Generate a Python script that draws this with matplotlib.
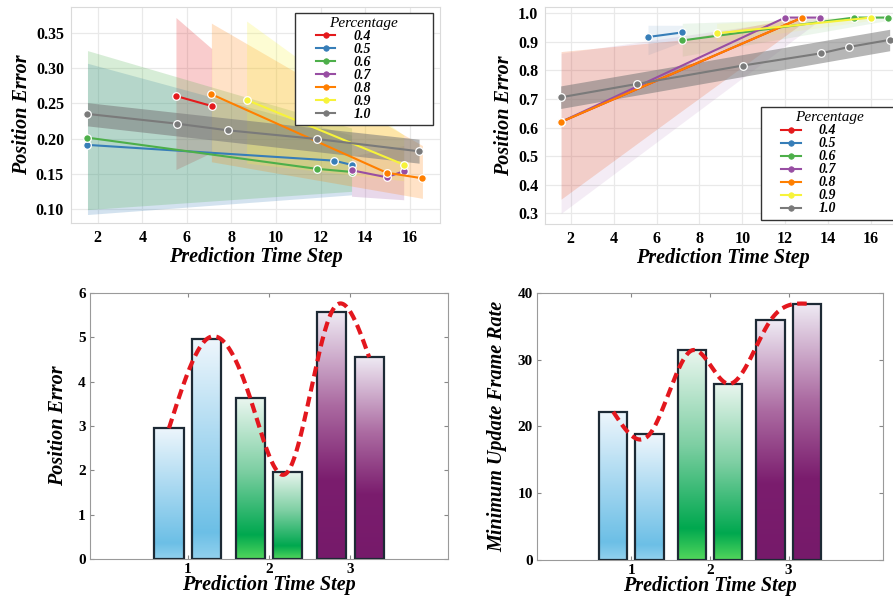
import numpy as np
import matplotlib.pyplot as plt
from matplotlib.colors import LinearSegmentedColormap
from matplotlib.lines import Line2D
from matplotlib.legend_handler import HandlerLine2D

SERIF = 'Liberation Serif'
plt.rcParams['font.family'] = SERIF

# ---- top panels: position error vs prediction time step ----
PERCENTAGES = ['0.4', '0.5', '0.6', '0.7', '0.8', '0.9', '1.0']
COLORS = ['#e41a1c', '#377eb8', '#4daf4a', '#984ea3', '#ff7f00', '#f7f33a', '#7a7a7a']

TL_X = [[5.51, 7.11], [1.54, 12.61, 13.39], [1.54, 11.82, 13.39], [13.39, 14.96, 15.73],
        [7.10, 14.96, 16.57], [8.68, 15.73], [1.54, 5.54, 7.84, 11.82, 16.42]]
TL_Y = [[0.2605, 0.2463], [0.191, 0.1686, 0.1626], [0.2013, 0.157, 0.1526], [0.155, 0.145, 0.1535],
        [0.263, 0.1515, 0.1435], [0.255, 0.163], [0.235, 0.2212, 0.2117, 0.1994, 0.1819]]
TL_BAND_X = [[5.51, 7.11], [1.54, 13.39], [1.54, 13.39], [13.39, 15.73],
             [7.10, 16.57], [8.68, 15.73], [1.54, 16.42]]
TL_BAND_LO = [[0.156, 0.180], [0.092, 0.120], [0.099, 0.125], [0.118, 0.113],
              [0.167, 0.115], [0.165, 0.140], [0.218, 0.165]]
TL_BAND_HI = [[0.372, 0.328], [0.307, 0.205], [0.325, 0.215], [0.175, 0.190],
              [0.364, 0.190], [0.367, 0.205], [0.251, 0.199]]

TR_X = [[1.55, 12.8], [5.6, 7.2], [7.2, 15.2, 16.8], [1.55, 12.0, 13.6],
        [1.55, 12.8], [8.8, 16.0], [1.53, 5.10, 10.01, 13.67, 14.96, 16.87]]
TR_Y = [[0.62, 0.985], [0.917, 0.933], [0.905, 0.985, 0.985], [0.62, 0.985, 0.985],
        [0.62, 0.985], [0.93, 0.985], [0.706, 0.753, 0.817, 0.860, 0.882, 0.907]]
TR_BAND_X = [[1.55, 7.2, 12.8], [5.6, 7.2], [7.2, 16.8], [1.55, 13.6],
             [1.55, 7.2, 12.8], [8.8, 16.0], [1.53, 16.87]]
TR_BAND_LO = [[0.35, 0.66, 0.965], [0.855, 0.90], [0.85, 0.975], [0.30, 0.975],
              [0.35, 0.66, 0.965], [0.90, 0.975], [0.667, 0.869]]
TR_BAND_HI = [[0.866, 0.907, 0.99], [0.958, 0.958], [0.965, 0.99], [0.86, 0.99],
              [0.866, 0.907, 0.99], [0.965, 0.99], [0.746, 0.944]]

# ---- bottom panels: bars per prediction time step ----
STEPS = [1, 2, 3]
BL_FIRST = [2.95, 3.62, 5.57]
BL_SECOND = [4.95, 1.97, 4.55]
BR_FIRST = [22.2, 31.4, 35.9]
BR_SECOND = [18.8, 26.4, 38.4]

LABEL_FONT = dict(fontsize=14.5, fontweight='bold', fontstyle='italic')

fig = plt.figure(figsize=(8.93, 6.02), dpi=100)


def line_panel(rect, xs, ys, bx, blo, bhi, ylim, yticks, yfmt, leg_box, band_alpha):
    ax = fig.add_axes(rect)
    handles = []
    for i, lab in enumerate(PERCENTAGES):
        c = COLORS[i]
        a = 0.55 if lab == '1.0' else band_alpha
        ax.fill_between(bx[i], blo[i], bhi[i], color=c, alpha=a, lw=0, zorder=1)
    for i, lab in enumerate(PERCENTAGES):
        c = COLORS[i]
        ax.plot(xs[i], ys[i], color=c, lw=1.5, marker='o', ms=5.5,
                mec='white', mew=0.9, zorder=3)
        handles.append(Line2D([], [], color=c, lw=1.5, marker='o', ms=4,
                              mec=c, mew=0.5))
    ax.set_xlim(0.8, 17.35)
    ax.set_ylim(*ylim)
    ax.set_xticks(range(2, 17, 2))
    ax.set_yticks(yticks)
    ax.set_yticklabels([yfmt.format(v) for v in yticks])
    ax.grid(True, color='#e9e9e9', lw=0.9)
    ax.set_axisbelow(True)
    for s in ax.spines.values():
        s.set_color('#dadada')
    ax.tick_params(length=0, pad=5, labelsize=11.5)
    for t in ax.get_xticklabels() + ax.get_yticklabels():
        t.set_fontweight('bold')
    ax.set_xlabel('Prediction Time Step', labelpad=1, **LABEL_FONT)
    ax.set_ylabel('Position Error', labelpad=3, **LABEL_FONT)
    leg = ax.legend(handles, PERCENTAGES, title='Percentage', loc='upper left',
                    bbox_to_anchor=leg_box, bbox_transform=fig.transFigure,
                    mode='expand', borderaxespad=0, fancybox=False,
                    framealpha=1, edgecolor='#333333', handlelength=2.6,
                    labelspacing=0.0, borderpad=0.3, handletextpad=1.3,
                    handler_map={Line2D: HandlerLine2D(xpad=1.2)},
                    prop={'family': SERIF, 'style': 'italic', 'weight': 'bold', 'size': 10},
                    title_fontproperties={'family': SERIF, 'style': 'italic', 'size': 11})
    leg.get_frame().set_linewidth(1.0)
    leg.set_zorder(5)
    return ax


line_panel([0.0795, 0.6296, 0.413, 0.3588], TL_X, TL_Y, TL_BAND_X, TL_BAND_LO, TL_BAND_HI,
           (0.080, 0.387), [0.10, 0.15, 0.20, 0.25, 0.30, 0.35], '{:.2f}',
           (0.3303, 0.5, 0.1545, 0.479), 0.22)
line_panel([0.6103, 0.6279, 0.3975, 0.3605], TR_X, TR_Y, TR_BAND_X, TR_BAND_LO, TR_BAND_HI,
           (0.263, 1.022), [0.3, 0.4, 0.5, 0.6, 0.7, 0.8, 0.9, 1.0], '{:.1f}',
           (0.8518, 0.3, 0.1545, 0.5218), 0.10)


def natural_spline(x, y, num=300):
    x = np.asarray(x, float)
    y = np.asarray(y, float)
    n = len(x)
    h = np.diff(x)
    A = np.zeros((n, n))
    r = np.zeros(n)
    A[0, 0] = A[-1, -1] = 1
    for i in range(1, n - 1):
        A[i, i - 1] = h[i - 1]
        A[i, i] = 2 * (h[i - 1] + h[i])
        A[i, i + 1] = h[i]
        r[i] = 6 * ((y[i + 1] - y[i]) / h[i] - (y[i] - y[i - 1]) / h[i - 1])
    m = np.linalg.solve(A, r)
    xs = np.linspace(x[0], x[-1], num)
    k = np.clip(np.searchsorted(x, xs) - 1, 0, n - 2)
    t0 = x[k + 1] - xs
    t1 = xs - x[k]
    hk = h[k]
    ys = (m[k] * t0 ** 3 + m[k + 1] * t1 ** 3) / (6 * hk) \
        + (y[k] / hk - m[k] * hk / 6) * t0 + (y[k + 1] / hk - m[k + 1] * hk / 6) * t1
    return xs, ys


CMAPS = [
    LinearSegmentedColormap.from_list('b', [(0, '#92d1ee'), (0.12, '#6cbfe6'), (0.55, '#aad9f1'), (1, '#eef6fc')]),
    LinearSegmentedColormap.from_list('g', [(0, '#52d65c'), (0.15, '#00a84f'), (0.55, '#7ecfa3'), (1, '#eaf6ef')]),
    LinearSegmentedColormap.from_list('p', [(0, '#761a6a'), (0.32, '#7b1d6e'), (0.62, '#ab6aa1'), (1, '#efebf4')]),
]


def bar_panel(rect, first, second, ylim, yticks, ylabel):
    ax = fig.add_axes(rect)
    off, w = 0.23, 0.36
    xpos = []
    vals = []
    for s, a, b in zip(STEPS, first, second):
        xpos += [s - off, s + off]
        vals += [a, b]
    bars = ax.bar(xpos, vals, width=w, facecolor='none', edgecolor='#1d2a35',
                  lw=1.6, zorder=3)
    grad = np.linspace(0, 1, 256).reshape(-1, 1)
    for i, p in enumerate(bars.patches):
        x0 = p.get_x()
        im = ax.imshow(grad, extent=[x0, x0 + p.get_width(), 0, p.get_height()],
                       origin='lower', aspect='auto', cmap=CMAPS[i // 2], zorder=2)
        im.set_clip_path(p)
    cx, cy = natural_spline(xpos, vals)
    ax.plot(cx, cy, color='#e3171e', lw=3, ls=(0, (2.4, 1.3)), zorder=4)
    ax.set_xlim(-0.2, 4.2)
    ax.set_ylim(*ylim)
    ax.set_xticks(STEPS)
    ax.set_yticks(yticks)
    ax.tick_params(direction='in', top=True, right=True, length=3, color='#888888',
                   labelsize=11, pad=3)
    for t in ax.get_xticklabels() + ax.get_yticklabels():
        t.set_fontweight('bold')
    for s in ax.spines.values():
        s.set_color('#9a9a9a')
    ax.set_xlabel('Prediction Time Step', labelpad=-1, **LABEL_FONT)
    ax.set_ylabel(ylabel, labelpad=7, **LABEL_FONT)
    return ax


bar_panel([0.1008, 0.0709, 0.401, 0.4429], BL_FIRST, BL_SECOND, (0, 6), range(0, 7),
          'Position Error')
bar_panel([0.6013, 0.0698, 0.3875, 0.4435], BR_FIRST, BR_SECOND, (0, 40), range(0, 41, 10),
          'Minimum Update Frame Rate')

fig.savefig('out.png', dpi=100)
